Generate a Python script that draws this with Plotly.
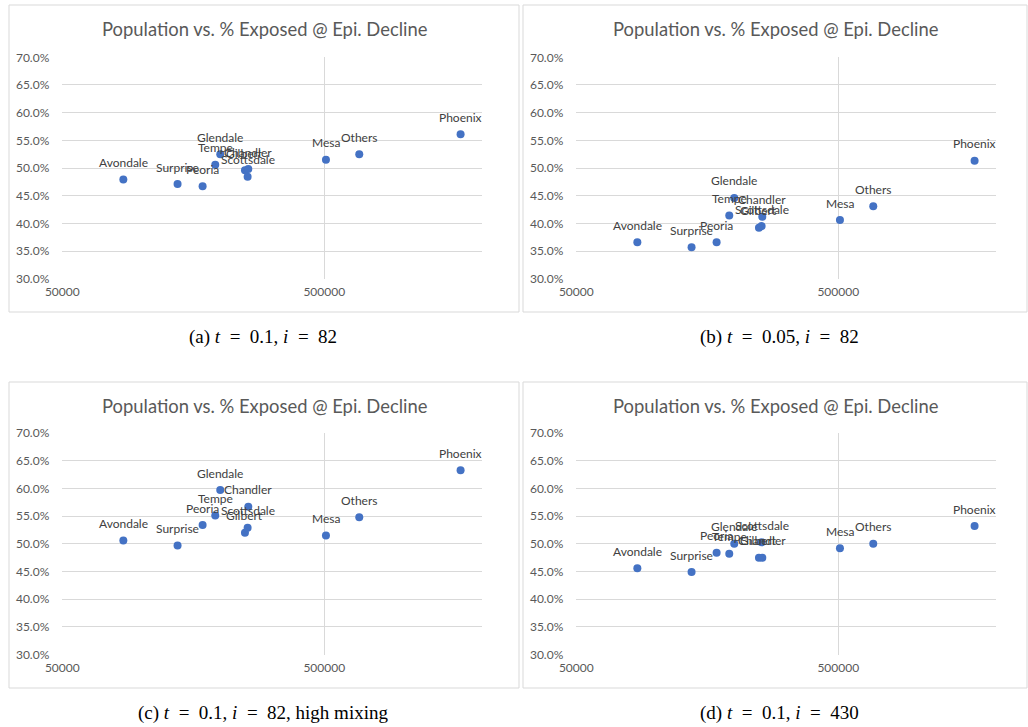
import math
import plotly.graph_objects as go

cities = ["Avondale", "Surprise", "Peoria", "Tempe", "Glendale", "Gilbert",
          "Scottsdale", "Chandler", "Mesa", "Others", "Phoenix"]
population = [85500, 137700, 171600, 191800, 200400, 249000,
              254900, 256400, 507400, 680000, 1657000]

exposed_a = [47.9, 47.1, 46.7, 50.6, 52.5, 49.6, 48.4, 49.8, 51.5, 52.5, 56.1]
exposed_b = [36.6, 35.7, 36.6, 41.4, 44.6, 39.2, 39.5, 41.2, 40.6, 43.1, 51.3]
exposed_c = [50.6, 49.7, 53.4, 55.1, 59.7, 52.0, 52.9, 56.7, 51.5, 54.8, 63.3]
exposed_d = [45.6, 44.9, 48.4, 48.2, 50.0, 47.5, 50.3, 47.5, 49.2, 50.0, 53.2]

panel_series = [exposed_a, exposed_b, exposed_c, exposed_d]
chart_title = "Population vs. % Exposed @ Epi. Decline"
EQ = "&nbsp;=&nbsp;"
captions = ["(a) <i>t</i> " + EQ + " 0.1, <i>i</i> " + EQ + " 82",
            "(b) <i>t</i> " + EQ + " 0.05, <i>i</i> " + EQ + " 82",
            "(c) <i>t</i> " + EQ + " 0.1, <i>i</i> " + EQ + " 82, high mixing",
            "(d) <i>t</i> " + EQ + " 0.1, <i>i</i> " + EQ + " 430"]
x_tickvals = [50000, 500000]
x_ticktext = ["50000", "500000"]
x_min, x_max = 50000, 2000000
y_min, y_max = 0.30, 0.70

W, H = 1028, 727
# pixel geometry: (box_left, box_right, box_top, box_bottom, plot_left, plot_right, plot_top, plot_bottom)
panels_px = [
    (9, 519, 5, 312, 62.3, 482, 57.3, 278.7),
    (523, 1027, 5, 312, 576.3, 996, 57.3, 278.7),
    (9, 519, 382, 688, 62.3, 482, 433, 654.7),
    (523, 1027, 382, 688, 576.3, 996, 433, 654.7),
]
caption_pos = [(263, 337), (779, 337), (263, 713), (779, 713)]

GRID = "#D9D9D9"
TXT = "#595959"
LBL = "#404040"
BLUE = "#4472C4"
FONT = "Lato"

fig = go.Figure()
layout = dict(width=W, height=H, margin=dict(l=0, r=0, t=0, b=0, pad=0),
              autosize=False,
              paper_bgcolor="white", plot_bgcolor="white", showlegend=False)
shapes = []
annotations = []

for k, (vals, geom) in enumerate(zip(panel_series, panels_px)):
    bl, br, bt, bb, pl, pr, pt, pb = geom
    n = "" if k == 0 else str(k + 1)
    xa, ya = "xaxis" + n, "yaxis" + n
    xr, yr = "x" + n, "y" + n
    yfrac = [v / 100.0 for v in vals]
    fig.add_trace(go.Scatter(x=population, y=yfrac, mode="markers",
                             marker=dict(color=BLUE, size=8),
                             xaxis=xr, yaxis=yr, hoverinfo="skip"))
    layout[xa] = dict(type="log", range=[math.log10(x_min), math.log10(x_max)],
                      domain=[pl / W, pr / W], anchor=yr, automargin=False,
                      tickvals=x_tickvals, ticktext=x_ticktext,
                      showgrid=True, gridcolor=GRID, gridwidth=1,
                      zeroline=False, showline=False, ticks="",
                      ticklabelstandoff=4,
                      tickfont=dict(family=FONT, size=12, color=TXT))
    layout[ya] = dict(range=[y_min, y_max], dtick=0.05, tick0=0.30,
                      domain=[1 - pb / H, 1 - pt / H], anchor=xr,
                      automargin=False,
                      tickformat=".1%", showgrid=True, gridcolor=GRID,
                      gridwidth=1, zeroline=False, showline=False, ticks="",
                      ticklabelstandoff=12,
                      tickfont=dict(family=FONT, size=12, color=TXT))
    shapes.append(dict(type="rect", xref="paper", yref="paper",
                       x0=bl / W, x1=br / W, y0=1 - bb / H, y1=1 - bt / H,
                       line=dict(color=GRID, width=1), fillcolor="rgba(0,0,0,0)"))
    annotations.append(dict(text=chart_title, xref="paper", yref="paper",
                            x=(bl + br) / 2 / W, y=1 - (bt + 24) / H,
                            xanchor="center", yanchor="middle", showarrow=False,
                            font=dict(family=FONT, size=18.4, color=TXT)))
    for name, px_, v in zip(cities, population, yfrac):
        annotations.append(dict(text=name, xref=xr, yref=yr,
                                x=math.log10(px_), y=v, yshift=17,
                                xanchor="center", yanchor="middle",
                                showarrow=False,
                                font=dict(family=FONT, size=12, color=LBL)))
    cx, cy = caption_pos[k]
    annotations.append(dict(text=captions[k], xref="paper", yref="paper",
                            x=cx / W, y=1 - cy / H, xanchor="center",
                            yanchor="middle", showarrow=False,
                            font=dict(family="Liberation Serif", size=19,
                                      color="black")))

layout["shapes"] = shapes
layout["annotations"] = annotations
fig.update_layout(**layout)
fig.write_html("out.html")
